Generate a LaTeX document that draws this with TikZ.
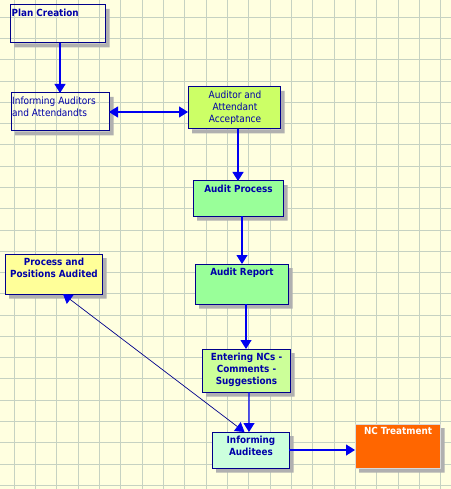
\documentclass[tikz,border=0pt]{standalone}
\usepackage{fontspec}
\setmainfont{DejaVu Sans Condensed}
\usetikzlibrary{arrows.meta,calc,backgrounds}
\definecolor{bgc}{HTML}{FFFFE0}
\definecolor{gridc}{HTML}{C6D2C2}
\definecolor{boxc}{HTML}{00008B}
\definecolor{txtc}{HTML}{0000A8}
\definecolor{arrc}{HTML}{0000F0}
\definecolor{shadc}{HTML}{B0B0B0}
\definecolor{fAccept}{HTML}{CCFF66}
\definecolor{fGreen}{HTML}{99FF99}
\definecolor{fYellow}{HTML}{FFFF99}
\definecolor{fEnter}{HTML}{CCFF99}
\definecolor{fAud}{HTML}{CCFFDD}
\definecolor{fOrange}{HTML}{FF6600}
\newcommand{\boxshadow}[1]{%
  \fill[shadc] ($(#1.north east)+(0.5,4)$) -- ++(4,0) |- ($(#1.south west)+(4,4.5)$) -- ++(0,-4) -| cycle;}
\begin{document}
\begin{tikzpicture}[x=1bp,y=-1bp,
  box/.style={draw=boxc, line width=1bp, anchor=north west, inner sep=0pt, outer sep=0pt},
  txt/.style={text=txtc, inner sep=0pt, font=\fontsize{10bp}{12bp}\selectfont, align=center, anchor=north},
  btxt/.style={txt, font=\fontsize{9.8bp}{12bp}\selectfont\bfseries},
  arr/.style={draw=arrc, line width=1.2bp, -{Triangle[width=11bp,length=9bp]}},
  darr/.style={draw=arrc, line width=1.2bp, {Triangle[width=11bp,length=9bp]}-{Triangle[width=11bp,length=9bp]}},
  thin arr/.style={draw=boxc, line width=0.7bp, {Triangle[width=11bp,length=9bp,color=arrc,fill=arrc]}-{Triangle[width=11bp,length=9bp,color=arrc,fill=arrc]}}
]
\useasboundingbox (0,0) rectangle (451,489);
\begin{scope}[on background layer]
  \fill[bgc] (0,0) rectangle (451,489);
  \foreach \i in {0,...,20} \draw[gridc, line width=0.9bp] ({14.3+21.32*\i},0) -- ++(0,489);
  \foreach \j in {0,...,22} \draw[gridc, line width=0.9bp] (0,{17.3+21.27*\j}) -- ++(451,0);
\end{scope}

% boxes
\node[box, minimum width=95bp, minimum height=38bp] (plan) at (10,5) {};
\node[box, minimum width=98bp, minimum height=38bp] (inform) at (11,93) {};
\node[box, fill=fAccept, minimum width=92bp, minimum height=42bp] (accept) at (188,87) {};
\node[box, fill=fGreen, minimum width=90bp, minimum height=35bp] (process) at (193,181) {};
\node[box, fill=fGreen, minimum width=93bp, minimum height=40bp] (report) at (195,264) {};
\node[box, fill=fYellow, minimum width=97bp, minimum height=40bp] (positions) at (5,254) {};
\node[box, fill=fEnter, minimum width=88bp, minimum height=43bp] (entering) at (202,349) {};
\node[box, fill=fAud, minimum width=77bp, minimum height=36bp] (auditees) at (212,432) {};
\node[box, fill=fOrange, draw=white!85!black, minimum width=85bp, minimum height=44bp] (nct) at (355,424) {};

\begin{scope}[on background layer]
  \foreach \n in {plan,inform,accept,process,report,positions,entering,auditees,nct} {\boxshadow{\n}}
\end{scope}

% texts
\node[btxt, anchor=north west, align=left] (plant) at ($(plan.north west)+(1.5,4)$) {Plan Creation};
\node[txt, anchor=north west, align=left] (informt) at ($(inform.north west)+(1,4)$) {Informing Auditors\\and Attendandts};
\node[txt] (acceptt) at ($(accept.north)+(1,3.5)$) {Auditor and\\Attendant\\Acceptance};
\node[btxt] (processt) at ($(process.north)+(0.5,3.7)$) {Audit Process};
\node[btxt] (reportt) at ($(report.north)+(0.5,4)$) {Audit Report};
\node[btxt] (positionst) at ($(positions.north)+(0.5,4)$) {Process and\\Positions Audited};
\node[btxt] (enteringt) at ($(entering.north)+(0.5,3.4)$) {Entering NCs -\\Comments -\\Suggestions};
\node[btxt] (auditeest) at ($(auditees.north)+(0.5,3.7)$) {Informing\\Auditees};
\node[btxt, text=white] (nctt) at ($(nct.north)+(0.5,3.4)$) {NC Treatment};

% connectors
\draw[arr] (plan.south -| inform.north) -- (inform.north);
\draw[darr] (inform.east) -- (inform.east -| accept.west);
\draw[arr] (accept.south -| process.north) -- (process.north);
\draw[arr] ($(process.south)+(4,0)$) -- ($(report.north)+(0.5,0)$);
\draw[arr] (report.south -| entering.north) -- (entering.north);
\draw[arr] ($(entering.south)+(3,0)$) -- ($(auditees.north)+(-1.5,0)$);
\draw[thin arr] ($(positions.south)+(9.5,0)$) -- ($(auditees.north)+(-6,0)$);
\draw[arr] (auditees.east) -- (auditees.east -| nct.west);
\end{tikzpicture}
\end{document}
